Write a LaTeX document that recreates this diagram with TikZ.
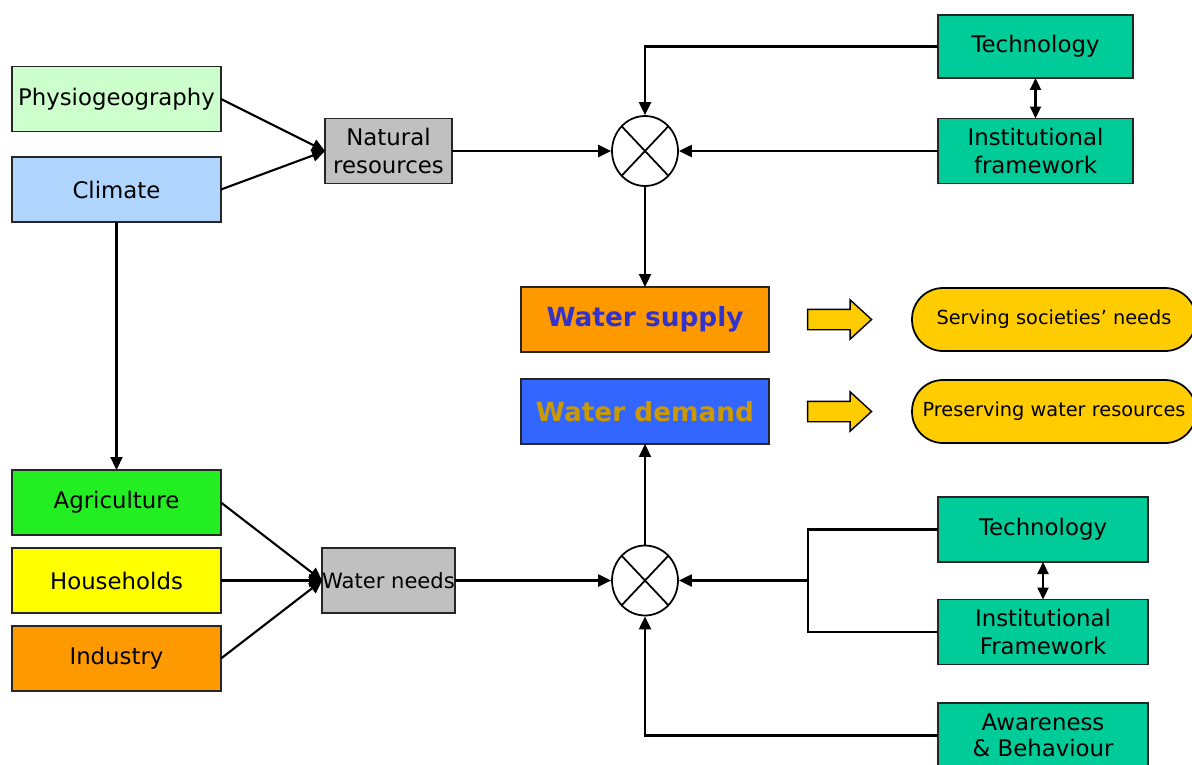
\documentclass[tikz,border=0pt]{standalone}
\usepackage{fontspec}
\setmainfont{DejaVu Sans}
\usepackage{tikz}
\usetikzlibrary{positioning, arrows.meta, shapes.geometric, shapes.arrows, calc}

\definecolor{physiocol}{HTML}{CCFFCC}
\definecolor{climatecol}{HTML}{B0D6FF}
\definecolor{greycol}{HTML}{C0C0C0}
\definecolor{tealcol}{HTML}{00CC99}
\definecolor{agricol}{HTML}{22EE22}
\definecolor{housecol}{HTML}{FFFF00}
\definecolor{indcol}{HTML}{FF9900}
\definecolor{demandcol}{HTML}{3366FF}
\definecolor{supplytext}{HTML}{3333CC}
\definecolor{demandtext}{HTML}{CC9900}
\definecolor{pillcol}{HTML}{FFCC00}

\begin{document}
\begin{tikzpicture}[
    x=0.02cm, y=-0.02cm,
    % Style for the boxes
    box/.style={
        rectangle,
        draw=black!85,
        line width=1pt,
        minimum height=1.3cm,
        align=center,
        inner sep=2pt,
        font=\fontsize{13}{16}\selectfont,
        outer sep=0pt
    },
    % Style for the combining circles
    mixer/.style={
        ellipse,
        draw,
        line width=1pt,
        minimum width=1.32cm,
        minimum height=1.4cm,
        path picture={
            \draw[line width=1pt]
                (path picture bounding box.north west) -- (path picture bounding box.south east)
                (path picture bounding box.north east) -- (path picture bounding box.south west);
        }
    },
    pill/.style={
        rectangle,
        rounded corners=0.62cm,
        draw,
        line width=1pt,
        fill=pillcol,
        minimum width=5.68cm,
        minimum height=1.26cm,
        inner sep=1pt,
        font=\fontsize{11}{13}\selectfont
    },
    bigarrow/.style={
        single arrow,
        draw,
        line width=0.8pt,
        fill=pillcol,
        minimum height=1.28cm,
        inner xsep=0pt,
        inner ysep=0.19cm,
        single arrow head extend=0.19cm,
        single arrow tip angle=85
    },
    flow/.style={-{Triangle[length=0.26cm,width=0.24cm]}, line width=1.2pt},
    both/.style={{Triangle[length=0.24cm,width=0.22cm]}-{Triangle[length=0.24cm,width=0.22cm]}, line width=1.2pt}
]

    % --- Settings ---
    \def\leftwidth{4.18cm}
    \def\midwidth{2.54cm}
    \def\waterwidth{4.96cm}

    \path[fill=white, use as bounding box] (0,0) rectangle (1192,764);

    % --- Natural side ---
    \node[box, fill=physiocol, minimum width=\leftwidth] (physio) at (116.5,99) {Physiogeography};
    \node[box, fill=climatecol, minimum width=\leftwidth] (climate) at (116.5,189.5) {Climate};
    \node[box, fill=greycol, minimum width=\midwidth, inner xsep=1pt] (natres) at (388.5,151) {Natural\\resources};
    \node[mixer] (mix1) at (645,151) {};

    \node[box, fill=tealcol, minimum width=3.9cm, minimum height=1.26cm] (tech1) at (1035.5,46.5) {Technology};
    \node[box, fill=tealcol, minimum width=3.9cm] (inst1) at (1035.5,151) {Institutional\\framework};

    \draw[flow] (physio.east) -- (natres.west);
    \draw[flow] (climate.east) -- (natres.west);
    \draw[flow] (natres.east) -- (mix1.west);
    \draw[flow] (tech1.west) -| (mix1.north);
    \draw[flow] (inst1.west) -- (mix1.east);
    \draw[both] (tech1.south) -- (inst1.north);

    % --- Supply and demand ---
    \node[box, fill=indcol, minimum width=\waterwidth, text=supplytext, font=\bfseries\fontsize{15}{18}\selectfont] (supply) at (645,319.5) {Water supply};
    \node[box, fill=demandcol, minimum width=\waterwidth, text=demandtext, font=\bfseries\fontsize{15}{18}\selectfont] (demand) at (645,411.5) {Water demand};
    \draw[flow] (mix1.south) -- (supply.north);

    \node[bigarrow] (arrsupply) at (834,319.5) {};
    \node[bigarrow] (arrdemand) at (834,411.5) {};
    \node[pill] (serving) at (1054,319.5) {Serving societies' needs};
    \node[pill] (preserving) at (1054,411.5) {Preserving water resources};

    % --- Needs side ---
    \node[box, fill=greycol, minimum width=\midwidth, inner xsep=0pt, font=\fontsize{12}{14}\selectfont] (needs) at (388.5,580.5) {Water needs};
    \node[mixer] (mix2) at (645,580.5) {};

    \foreach \name/\txt/\col/\ypos in {agri/Agriculture/agricol/502.5, house/Households/housecol/580.5, ind/Industry/indcol/658.5} {
        \node[box, fill=\col, minimum width=\leftwidth] (\name) at (116.5,\ypos) {\txt};
        \draw[flow] (\name.east) -- (needs.west);
    }
    \draw[flow] (climate.south) -- (agri.north);
    \draw[flow] (needs.east) -- (mix2.west);
    \draw[flow] (mix2.north) -- (demand.south);

    \node[box, fill=tealcol, minimum width=4.2cm] (tech2) at (1043,529.5) {Technology};
    \node[box, fill=tealcol, minimum width=4.2cm] (inst2) at (1043,632) {Institutional\\Framework};
    \node[box, fill=tealcol, minimum width=4.2cm, inner ysep=5pt, anchor=north, font=\fontsize{13}{15}\selectfont] (aware) at (1043,703) {Awareness\\\& Behaviour};
    \draw[both] (tech2.south) -- (inst2.north);

    % --- Policy inputs for demand ---
    \coordinate (join) at (808,580.5);
    \draw[line width=1.2pt] (tech2.west) -| (join) |- (inst2.west);
    \draw[flow] (join) -- (mix2.east);
    \draw[flow] (aware.west) -| (mix2.south);

\end{tikzpicture}
\end{document}
